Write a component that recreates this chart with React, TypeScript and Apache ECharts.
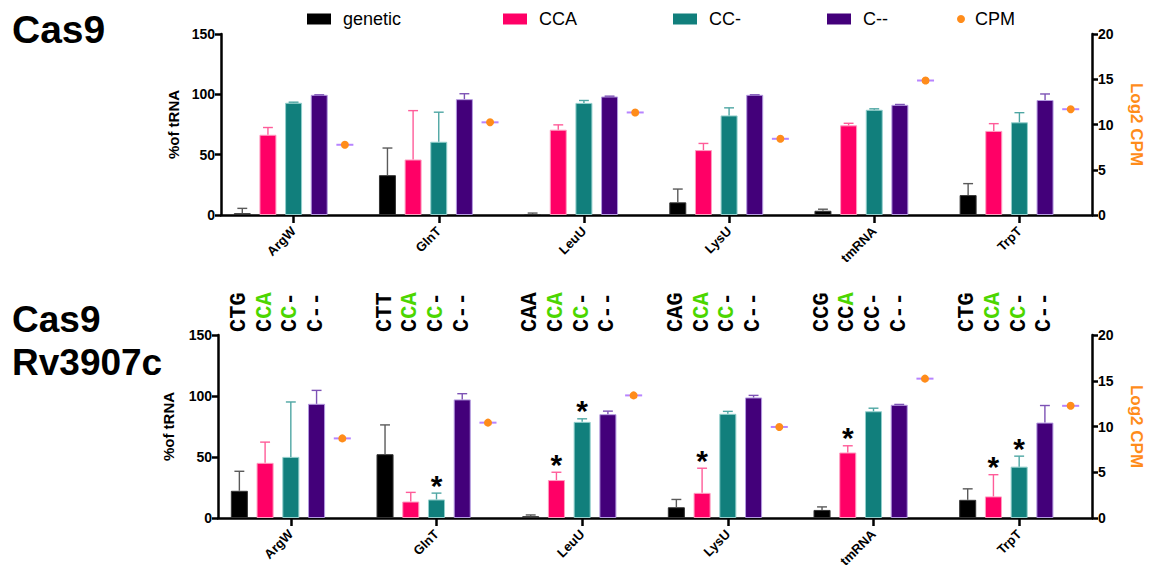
import React, { useEffect, useRef } from 'react';
import * as echarts from 'echarts';

// ---------- data ----------
const categories = ['ArgW', 'GlnT', 'LeuU', 'LysU', 'tmRNA', 'TrpT'];
const seriesNames = ['genetic', 'CCA', 'CC-', 'C--'];

// Cas9 (top panel)
const cas9Genetic = [1.5, 33, 0.8, 10.5, 3.5, 16.5];
const cas9GeneticErr = [4, 22.5, 0.8, 11, 1.3, 9.5];
const cas9CCA = [66.5, 46, 70.7, 53.8, 74.3, 69.7];
const cas9CCAErr = [6, 40.5, 4, 5.5, 1.7, 6];
const cas9CC = [93, 60.7, 92.9, 82.5, 87.2, 76.8];
const cas9CCErr = [0.5, 24.5, 2, 6.3, 0.8, 8];
const cas9C = [99.6, 96, 98.2, 99.6, 91.3, 95.3];
const cas9CErr = [0, 4.5, 0.3, 0, 0.3, 5];
const cas9CPM = [7.76, 10.24, 11.33, 8.42, 14.86, 11.69];

// Cas9 Rv3907c (bottom panel)
const rvGenetic = [22.3, 52.3, 1.5, 8.8, 6.6, 14.9];
const rvGeneticErr = [16, 24, 1, 6.4, 2.5, 9];
const rvCCA = [45.2, 13.5, 31.1, 20.6, 53.7, 17.7];
const rvCCAErr = [17, 7.5, 6.4, 20.2, 5.5, 17.8];
const rvCC = [50.1, 15.2, 78.8, 85.4, 87.5, 42.1];
const rvCCErr = [45, 5.2, 2.5, 2, 2.5, 8.6];
const rvC = [93.6, 97.2, 85.1, 98.8, 92.8, 78.2];
const rvCErr = [11, 4.7, 2.5, 1.7, 0.3, 14];
const rvCPM = [8.7, 10.42, 13.4, 9.95, 15.23, 12.26];
// significance markers (1 = "*")
const rvStarCCA = [0, 0, 1, 1, 1, 1];
const rvStarCC = [0, 1, 1, 0, 0, 1];

// sequence labels above bottom panel and their highlighted nucleotides
const seqGenetic = ['CTG', 'CTT', 'CAA', 'CAG', 'CCG', 'CTG'];
const seqCCA = ['CCA', 'CCA', 'CCA', 'CCA', 'CCA', 'CCA'];
const seqCC = ['CC-', 'CC-', 'CC-', 'CC-', 'CC-', 'CC-'];
const seqC = ['C--', 'C--', 'C--', 'C--', 'C--', 'C--'];
const hlGenetic = ['000', '000', '000', '000', '000', '000'];
const hlCCA = ['011', '011', '011', '011', '001', '011'];
const hlCC = ['010', '010', '010', '010', '000', '010'];
const hlC = ['000', '000', '000', '000', '000', '000'];

const leftTicks = { min: 0, max: 150, interval: 50 };
const rightTicks = { min: 0, max: 20, interval: 5 };

// ---------- styles ----------
const FONT = '"Liberation Sans", Arial, sans-serif';
const barColors = ['#000000', '#ff0066', '#117f7c', '#43007a'];
const errColors = ['#5a5a5a', '#ff5c99', '#4ea6a3', '#7d52b5'];
const borderColors = ['#333333', '#ff9cc0', '#93cfcc', '#b49ae0'];
const CPM_COLOR = '#ff8c1a';
const CPM_LINE = '#b784ff';
const GREEN = '#4cd600';
const BW = 0.117; // bar width as fraction of category band
const GR = 0.51; // bar gap ratio
const SP = BW * (1 + GR); // slot spacing as fraction of band

function App() {
  const ref = useRef<HTMLDivElement>(null);

  useEffect(() => {
    if (!ref.current) return;
    const chart = echarts.init(ref.current, null, { renderer: 'svg' });

    const panels = [
      {
        vals: [cas9Genetic, cas9CCA, cas9CC, cas9C],
        errs: [cas9GeneticErr, cas9CCAErr, cas9CCErr, cas9CErr],
        stars: [null, null, null, null],
        cpm: cas9CPM,
      },
      {
        vals: [rvGenetic, rvCCA, rvCC, rvC],
        errs: [rvGeneticErr, rvCCAErr, rvCCErr, rvCErr],
        stars: [null, rvStarCCA, rvStarCC, null],
        cpm: rvCPM,
      },
    ];

    const series: any[] = [];
    panels.forEach((p, g) => {
      const yL = g * 2;
      const yR = g * 2 + 1;
      seriesNames.forEach((name, s) => {
        series.push({
          type: 'bar',
          name,
          xAxisIndex: g,
          yAxisIndex: yL,
          data: p.vals[s],
          barWidth: BW * 100 + '%',
          barGap: GR * 100 + '%',
          itemStyle: { color: barColors[s], borderColor: borderColors[s], borderWidth: 1 },
          silent: true,
        });
      });
      // placeholder fifth slot (for the CPM marker)
      series.push({
        type: 'bar',
        name: '_slot',
        xAxisIndex: g,
        yAxisIndex: yL,
        data: categories.map(() => '-'),
        barWidth: BW * 100 + '%',
        barGap: GR * 100 + '%',
        silent: true,
      });
      // error bars + stars
      const errRows: any[] = [];
      seriesNames.forEach((_, s) => {
        categories.forEach((_, i) => {
          const st = p.stars[s] ? (p.stars[s] as number[])[i] : 0;
          errRows.push([i, s, p.vals[s][i], p.errs[s][i], st]);
        });
      });
      series.push({
        type: 'custom',
        name: '_err' + g,
        xAxisIndex: g,
        yAxisIndex: yL,
        data: errRows,
        silent: true,
        z: 5,
        renderItem: (params: any, api: any) => {
          const i = api.value(0);
          const s = api.value(1);
          const v = api.value(2);
          const e = api.value(3);
          const star = api.value(4);
          const band = api.size([1, 0])[0];
          const x = api.coord([i, 0])[0] + (s - 2) * band * SP;
          const yTop = api.coord([i, v])[1];
          const yErr = api.coord([i, v + e])[1];
          const cap = band * 0.068;
          const st = { stroke: errColors[s], lineWidth: 1.4 };
          const children: any[] = [
            { type: 'line', shape: { x1: x, y1: yTop, x2: x, y2: yErr }, style: st },
            { type: 'line', shape: { x1: x - cap / 2, y1: yErr, x2: x + cap / 2, y2: yErr }, style: st },
          ];
          if (star) {
            children.push({
              type: 'text',
              x,
              y: yErr - 8,
              style: {
                text: '*',
                fontSize: 30,
                fontWeight: 'bold',
                fontFamily: FONT,
                fill: '#000',
                align: 'center',
                verticalAlign: 'middle',
              },
            });
          }
          return { type: 'group', children };
        },
      });
      // CPM marker on right axis
      series.push({
        type: 'custom',
        name: 'CPM',
        xAxisIndex: g,
        yAxisIndex: yR,
        data: p.cpm.map((v, i) => [i, v]),
        itemStyle: { color: CPM_COLOR },
        silent: true,
        z: 6,
        renderItem: (params: any, api: any) => {
          const i = api.value(0);
          const v = api.value(1);
          const band = api.size([1, 0])[0];
          const x = api.coord([i, v])[0] + 2 * band * SP;
          const y = api.coord([i, v])[1];
          const hw = (band * BW) / 2;
          return {
            type: 'group',
            children: [
              { type: 'line', shape: { x1: x - hw, y1: y, x2: x + hw, y2: y }, style: { stroke: CPM_LINE, lineWidth: 2 } },
              { type: 'circle', shape: { cx: x, cy: y, r: 4 }, style: { fill: CPM_COLOR } },
            ],
          };
        },
      });
    });

    // sequence labels above bottom panel
    const seqSets = [seqGenetic, seqCCA, seqCC, seqC];
    const hlSets = [hlGenetic, hlCCA, hlCC, hlC];
    const seqRows: any[] = [];
    const seqTexts: string[] = [];
    categories.forEach((_, i) => {
      [0, 1, 2, 3].forEach((s) => {
        const txt = seqSets[s][i];
        const hl = hlSets[s][i];
        let out = '';
        let k = 0;
        while (k < txt.length) {
          const f = hl[k];
          let j = k;
          while (j < txt.length && hl[j] === f) j++;
          out += '{' + (f === '1' ? 'g' : 'k') + '|' + txt.slice(k, j) + '}';
          k = j;
        }
        seqRows.push([i, s]);
        seqTexts.push(out);
      });
    });
    const monoBase = { fontFamily: '"Liberation Mono", "Courier New", monospace', fontWeight: 'bold', fontSize: 22 };
    series.push({
      type: 'custom',
      name: '_seq',
      xAxisIndex: 1,
      yAxisIndex: 2,
      data: seqRows,
      silent: true,
      renderItem: (params: any, api: any) => {
        const i = api.value(0);
        const s = api.value(1);
        const band = api.size([1, 0])[0];
        const x = api.coord([i, 0])[0] + (s - 2) * band * SP;
        const y = api.coord([i, leftTicks.max])[1] - 3;
        return {
          type: 'text',
          x,
          y,
          rotation: Math.PI / 2,
          style: {
            text: seqTexts[params.dataIndex],
            ...monoBase,
            fill: '#000',
            align: 'left',
            verticalAlign: 'middle',
            rich: {
              k: { ...monoBase, fill: '#000' },
              g: { ...monoBase, fill: GREEN },
            },
          },
        };
      },
    });

    const axisLine = { show: true, lineStyle: { color: '#000', width: 2.5 } };
    const axisTick = { show: true, length: 6, lineStyle: { color: '#000', width: 2.5 } };
    const yLabel = { color: '#000', fontWeight: 'bold', fontSize: 14, fontFamily: FONT, margin: 6 };

    const makeX = (g: number) => ({
      type: 'category',
      gridIndex: g,
      data: categories,
      axisLine,
      axisTick: { show: true, alignWithLabel: true, length: 8, lineStyle: { color: '#000', width: 2.5 } },
      axisLabel: { rotate: 45, color: '#000', fontWeight: 'bold', fontSize: 13, fontFamily: FONT, margin: 14 },
      splitLine: { show: false },
    });
    const makeYL = (g: number, gap: number) => ({
      type: 'value',
      gridIndex: g,
      position: 'left',
      ...leftTicks,
      axisLine,
      axisTick,
      axisLabel: yLabel,
      splitLine: { show: false },
      name: '%of tRNA',
      nameLocation: 'middle',
      nameGap: gap,
      nameTextStyle: { color: '#000', fontWeight: 'bold', fontSize: 15, fontFamily: FONT },
    });
    const makeYR = (g: number) => ({
      type: 'value',
      gridIndex: g,
      position: 'right',
      ...rightTicks,
      axisLine,
      axisTick,
      axisLabel: yLabel,
      splitLine: { show: false },
      name: 'Log2 CPM',
      nameLocation: 'middle',
      nameRotate: -90,
      nameGap: 36,
      nameTextStyle: { color: CPM_COLOR, fontWeight: 'bold', fontSize: 17, fontFamily: FONT },
    });

    const legendBase = {
      top: 5,
      itemWidth: 24,
      itemHeight: 11,
      selectedMode: false,
      itemStyle: { borderWidth: 0 },
      textStyle: { color: '#000', fontSize: 18, fontFamily: FONT, padding: [0, 0, 0, 7] },
    };
    const legendLefts = [302, 498, 668, 822];

    chart.setOption({
      animation: false,
      backgroundColor: '#fff',
      grid: [
        { left: 221, right: 65, top: 34, height: 181 },
        { left: 218, right: 65, top: 335, height: 183 },
      ],
      xAxis: [makeX(0), makeX(1)],
      yAxis: [makeYL(0, 38), makeYR(0), makeYL(1, 42), makeYR(1)],
      legend: [
        ...seriesNames.map((n, s) => ({ ...legendBase, left: legendLefts[s], data: [{ name: n, icon: 'rect' }] })),
        {
          ...legendBase,
          left: 952,
          itemWidth: 8,
          itemHeight: 8,
          textStyle: { ...legendBase.textStyle, padding: [0, 0, 0, 5] },
          data: [{ name: 'CPM', icon: 'circle' }],
        },
      ],
      graphic: [
        {
          type: 'text',
          left: 12,
          top: 10,
          style: { text: 'Cas9', fontSize: 39, fontWeight: 'bold', fontFamily: FONT, fill: '#000' },
        },
        {
          type: 'text',
          left: 12,
          top: 298,
          style: { text: 'Cas9\nRv3907c', fontSize: 37, lineHeight: 43, fontWeight: 'bold', fontFamily: FONT, fill: '#000' },
        },
      ],
      series,
    });

    return () => chart.dispose();
  }, []);

  return <div ref={ref} style={{ position: 'fixed', left: 0, top: 0, width: 1157, height: 572, background: '#fff' }} />;
}

export default App;
